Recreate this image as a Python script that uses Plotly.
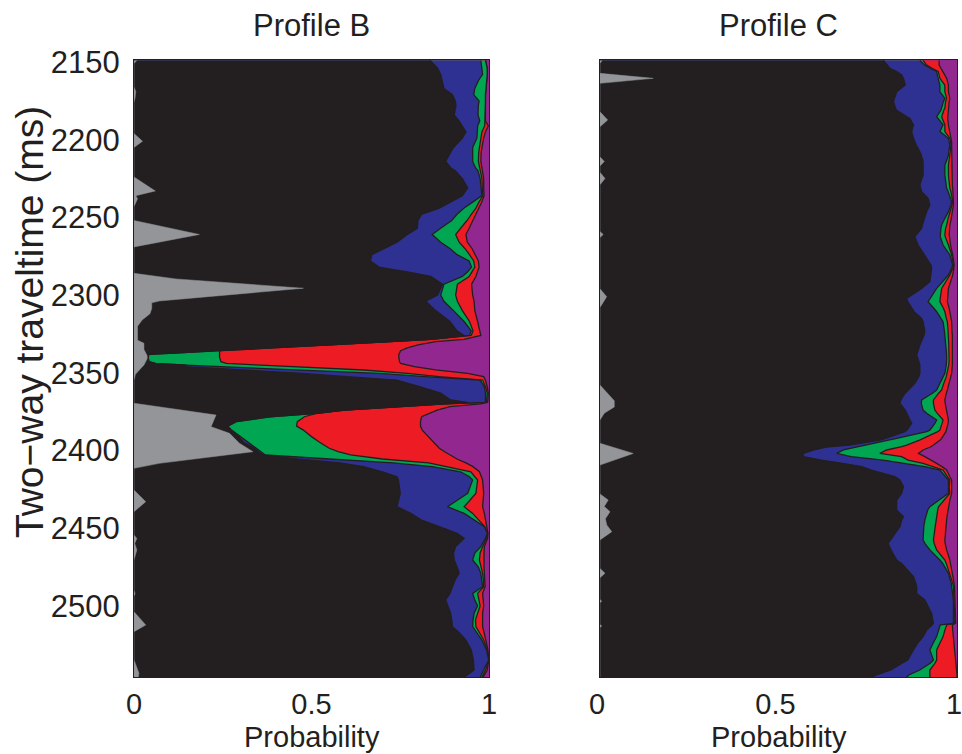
import plotly.graph_objects as go

# ---------------- Profile B ----------------
B_ms = [2149, 2154, 2158, 2162, 2167, 2171, 2175, 2178, 2184, 2188,
        2191, 2195, 2199, 2201, 2205, 2208, 2214, 2218, 2220, 2225,
        2231, 2236, 2240, 2244, 2248, 2252, 2257, 2261, 2266, 2270,
        2274, 2278, 2282, 2285, 2288, 2293, 2300, 2304, 2310, 2317,
        2323, 2326, 2328.5, 2330, 2332, 2334, 2335.8, 2337.1, 2338.2, 2340,
        2342.9, 2344, 2345.1, 2346.1, 2348.2, 2350.4, 2352.5, 2354.7, 2359, 2363,
        2367.5, 2369, 2370, 2371.8, 2374, 2376.1, 2378.3, 2381.5, 2384.3, 2386.9,
        2391.1, 2395, 2398.6, 2400.8, 2402.9, 2405.5, 2408, 2410.4, 2413.7, 2416.9,
        2419, 2427.6, 2436.2, 2440.5, 2444.8, 2449, 2453.3, 2456.6, 2461.9, 2466,
        2470.5, 2475, 2479.1, 2483, 2487.7, 2492, 2496.2, 2500, 2504.8, 2509,
        2513.4, 2517, 2522, 2528.4, 2534.9, 2541.3, 2546]
# cumulative probability at the right edge of each class
B_black = [.834, .855, .864, .868, .873, .897, .905, .907, .902, .916,
           .925, .935, .925, .916, .900, .892, .878, .892, .905, .925,
           .940, .925, .892, .860, .810, .800, .798, .770, .741, .703,
           .670, .666, .690, .770, .836, .869, .855, .822, .850, .890,
           .910, .930, .836, .722, .552, .363, .241, .128, .042, .040,
           .042, .060, .146, .146, .316, .474, .600, .740, .807, .864,
           .892, .940, .875, .750, .593, .514, .382, .288, .264, .270,
           .295, .310, .340, .350, .365, .460, .580, .647, .700, .741,
           .745, .750, .741, .780, .810, .860, .910, .930, .906, .900,
           .902, .910, .916, .905, .897, .890, .878, .885, .892, .895,
           .897, .915, .935, .950, .956, .958, .930]
B_blue = [.977, .980, .982, .970, .960, .957, .972, .970, .969, .974,
          .968, .967, .966, .962, .954, .954, .954, .962, .969, .975,
          .977, .980, .955, .930, .910, .895, .864, .840, .864, .890,
          .910, .944, .951, .940, .925, .873, .864, .873, .900, .930,
          .950, .945, .836, .722, .552, .363, .241, .128, .042, .040,
          .042, .060, .146, .255, .481, .690, .820, .975, .987, .990,
          .990, .990, .875, .750, .593, .514, .382, .288, .264, .275,
          .300, .320, .345, .355, .370, .550, .730, .840, .920, .945,
          .954, .940, .883, .930, .960, .987, .995, .990, .977, .960,
          .954, .970, .977, .980, .982, .954, .960, .968, .958, .955,
          .954, .965, .980, .993, .999, .985, .975]
B_green = [.990, .995, .995, .993, .992, .990, .990, .990, .989, .988,
           .988, .980, .977, .975, .972, .971, .970, .974, .977, .980,
           .981, .983, .972, .963, .950, .938, .920, .906, .916, .932,
           .945, .957, .960, .953, .944, .911, .906, .911, .925, .945,
           .955, .950, .836, .722, .552, .363, .241, .241, .241, .241,
           .245, .260, .358, .458, .647, .770, .860, .982, .990, .995,
           .994, .993, .875, .750, .593, .514, .480, .460, .458, .477,
           .500, .525, .550, .575, .610, .700, .830, .880, .949, .960,
           .968, .963, .930, .954, .970, .988, .996, .993, .982, .975,
           .973, .978, .982, .984, .985, .968, .972, .975, .968, .962,
           .963, .972, .985, .995, .999, .990, .980]
B_red = [.990, .995, .995, .993, .992, .990, .990, .990, .989, .990,
         .998, .990, .985, .983, .980, .978, .977, .980, .983, .985,
         .985, .986, .980, .972, .962, .955, .944, .935, .939, .952,
         .962, .970, .972, .968, .963, .951, .954, .958, .960, .968,
         .975, .977, .930, .850, .800, .770, .751, .749, .746, .746,
         .748, .751, .770, .790, .850, .940, .985, .990, .995, .998,
         .997, .996, .977, .890, .854, .830, .810, .807, .807, .812,
         .830, .845, .860, .875, .890, .910, .935, .955, .973, .978,
         .982, .985, .982, .987, .990, .992, .997, .996, .987, .986,
         .985, .986, .987, .988, .989, .982, .984, .985, .982, .982,
         .982, .986, .990, .997, .999, .995, .983]
B_gray_ms = [2149, 2151, 2166, 2169, 2173, 2176, 2196, 2201, 2205, 2224,
             2233, 2236, 2238, 2241, 2243, 2252, 2261, 2269, 2286, 2289.6,
             2295.6, 2303.8, 2305, 2308.5, 2312, 2316, 2320, 2329, 2331, 2335,
             2339, 2341, 2345, 2351, 2355, 2369.6, 2377.2, 2384.7, 2389, 2395.4,
             2400.8, 2408.3, 2411.5, 2425.5, 2433, 2439.4, 2454.4, 2456.6, 2459.8, 2464,
             2470.5, 2490, 2492, 2494, 2503.8, 2512.3, 2516.6, 2534.9, 2543.4, 2546]
B_gray = [.008, 0, 0, .005, .003, 0, 0, .024, 0, 0,
          .060, .005, .010, .004, 0, 0, .184, 0, 0, .118,
          .477, .071, .050, .050, .045, .023, .010, .010, .028, .028,
          .037, .037, .028, .004, 0, 0, .231, .217, .269, .297,
          .335, .071, 0, 0, .033, 0, 0, .008, .002, .008,
          0, 0, .003, 0, 0, .033, 0, 0, .014, .012]

# ---------------- Profile C ----------------
C_ms = [2149, 2152, 2154, 2156, 2158.4, 2160.5, 2164.8, 2169.1, 2173.4, 2175.5,
        2179.8, 2181, 2185.2, 2186.3, 2190.5, 2194.8, 2199.1, 2201.3, 2203.4, 2207.7,
        2209.9, 2214.1, 2216.3, 2222.7, 2229.2, 2231.3, 2233.4, 2237.7, 2239.9, 2242,
        2246.3, 2250.6, 2254.9, 2257, 2261.3, 2262.4, 2267.8, 2274.2, 2280.6, 2282.8,
        2287.1, 2291.4, 2295.7, 2302.1, 2304.2, 2308.5, 2310.7, 2315, 2317.1, 2323.5,
        2325.7, 2332.1, 2334.3, 2338.6, 2341.8, 2345, 2350.4, 2352.5, 2356.8, 2361.1,
        2363.3, 2367.5, 2369.7, 2374, 2376.1, 2380.4, 2382.6, 2386.9, 2387.9, 2392.2,
        2393.3, 2396.5, 2397.6, 2399.7, 2401.9, 2404, 2406.2, 2408.3, 2410.4, 2412.6,
        2416.9, 2419, 2423.3, 2427.6, 2431.9, 2436.2, 2438.3, 2442.6, 2444.8, 2449,
        2457.6, 2459.8, 2464, 2470.5, 2472.7, 2479.1, 2481.2, 2485.5, 2487.7, 2492,
        2494.1, 2496.2, 2502.7, 2504.8, 2509.1, 2511.3, 2512.3, 2515.6, 2519.8, 2524,
        2528.4, 2534.9, 2537, 2541.3, 2544.5, 2546]
C_black = [.794, .805, .812, .830, .845, .850, .855, .831, .826, .822,
           .828, .831, .860, .868, .878, .873, .878, .882, .886, .896,
           .900, .905, .905, .905, .896, .898, .901, .919, .922, .924,
           .915, .908, .903, .901, .886, .882, .891, .910, .927, .929,
           .926, .924, .901, .859, .862, .873, .880, .901, .905, .910,
           .908, .896, .893, .887, .892, .896, .896, .893, .882, .865,
           .854, .843, .840, .855, .859, .868, .873, .860, .854, .800,
           .784, .700, .640, .600, .570, .570, .620, .680, .733, .760,
           .826, .840, .850, .845, .831, .831, .831, .850, .845, .840,
           .812, .807, .815, .831, .845, .870, .878, .885, .887, .887,
           .900, .910, .924, .929, .932, .934, .930, .915, .905, .890,
           .878, .862, .845, .815, .775, .760]
C_blue = [.896, .910, .925, .943, .945, .947, .952, .952, .966, .962,
          .957, .955, .943, .947, .961, .952, .976, .978, .980, .977,
          .976, .970, .966, .966, .969, .971, .975, .982, .985, .983,
          .976, .966, .957, .955, .952, .953, .961, .980, .988, .985,
          .976, .960, .943, .925, .919, .935, .943, .955, .961, .965,
          .966, .970, .971, .971, .971, .970, .966, .962, .952, .943,
          .930, .901, .900, .905, .915, .943, .938, .924, .915, .831,
          .810, .747, .730, .682, .663, .704, .793, .859, .910, .952,
          .968, .976, .976, .976, .950, .924, .918, .912, .910, .907,
          .905, .910, .924, .952, .960, .976, .979, .984, .985, .988,
          .989, .990, .990, .990, .992, .990, .953, .948, .943, .933,
          .924, .934, .925, .896, .865, .859]
C_green = [.905, .915, .930, .947, .950, .952, .966, .966, .971, .968,
           .966, .963, .957, .959, .966, .966, .980, .982, .983, .981,
           .980, .978, .976, .976, .978, .980, .983, .986, .988, .986,
           .980, .975, .971, .968, .966, .967, .976, .985, .990, .988,
           .980, .968, .957, .953, .952, .962, .966, .970, .973, .975,
           .976, .977, .977, .978, .978, .977, .973, .970, .963, .957,
           .948, .934, .934, .938, .945, .961, .958, .952, .946, .905,
           .895, .859, .845, .803, .784, .845, .863, .905, .935, .961,
           .973, .980, .978, .980, .964, .948, .946, .944, .943, .939,
           .934, .936, .943, .966, .970, .980, .983, .988, .990, .991,
           .992, .992, .993, .993, .994, .993, .971, .966, .961, .952,
           .943, .943, .938, .924, .924, .924]
C_red = [.950, .950, .955, .961, .966, .971, .976, .976, .980, .978,
         .976, .975, .973, .974, .976, .980, .985, .985, .985, .985,
         .985, .985, .985, .986, .987, .988, .989, .990, .990, .990,
         .988, .984, .980, .979, .978, .979, .982, .988, .992, .991,
         .988, .982, .976, .974, .973, .978, .980, .983, .985, .986,
         .987, .987, .987, .988, .988, .987, .985, .983, .978, .973,
         .970, .966, .967, .971, .972, .976, .975, .971, .969, .957,
         .953, .934, .927, .905, .892, .910, .929, .943, .958, .971,
         .980, .985, .985, .985, .980, .976, .974, .972, .971, .969,
         .966, .967, .971, .980, .982, .987, .989, .992, .993, .994,
         .994, .994, .996, .996, .996, .996, .987, .988, .990, .992,
         .994, .997, .998, 1.0, 1.0, 1.0]
C_gray_ms = [2149, 2151, 2157.3, 2160.5, 2163.7, 2182, 2187.3, 2191.6, 2211, 2214,
             2217, 2221, 2225, 2229, 2259, 2261, 2263, 2296, 2301, 2308,
             2357.9, 2361, 2368, 2372, 2376, 2380.4, 2395.4, 2401.9, 2409.4, 2428,
             2431.9, 2436, 2439.4, 2444, 2448, 2452.3, 2457.6, 2476, 2479, 2482,
             2496, 2497, 2498, 2512, 2513, 2514, 2546]
C_gray = [.006, 0, 0, .149, 0, 0, .0215, 0, 0, .012,
          0, 0, .014, 0, 0, .009, 0, 0, .0187, 0,
          0, .012, .040, .040, .012, 0, 0, .093, 0, 0,
          .023, .012, .028, .015, .019, .033, 0, 0, .014, 0,
          0, .005, 0, 0, .005, 0, 0]

Y_TICKS = [2150, 2200, 2250, 2300, 2350, 2400, 2450, 2500]
X_TICKS = [0, 0.5, 1]
X_TICKTEXT = ["0", "0.5", "1"]

COL_BLACK = "#231f20"
COL_GRAY = "#939598"
COL_BLUE = "#2e3192"
COL_GREEN = "#00a651"
COL_RED = "#ed1c24"
COL_PURPLE = "#92278f"
OUTLINE = "#231f20"

FONT = "Liberation Sans, Arial, sans-serif"
TXT = "#231f20"

fig = go.Figure()


def add_panel(xa, ya, ms, black, blue, green, red, gray_ms, gray):
    # painter's order: each class is drawn from x = 0 out to its right edge
    for edge, col in [(red, COL_RED), (green, COL_GREEN), (blue, COL_BLUE), (black, COL_BLACK)]:
        fig.add_trace(go.Scatter(x=edge, y=ms, mode="lines", fill="tozerox",
                                 fillcolor=col, line=dict(color=OUTLINE, width=1.3),
                                 xaxis=xa, yaxis=ya, hoverinfo="skip", showlegend=False))
    fig.add_trace(go.Scatter(x=gray, y=gray_ms, mode="lines", fill="tozerox",
                             fillcolor=COL_GRAY, line=dict(color=COL_GRAY, width=0.5),
                             xaxis=xa, yaxis=ya, hoverinfo="skip", showlegend=False))


add_panel("x", "y", B_ms, B_black, B_blue, B_green, B_red, B_gray_ms, B_gray)
add_panel("x2", "y2", C_ms, C_black, C_blue, C_green, C_red, C_gray_ms, C_gray)

W, H = 962, 754
bx0, bx1 = 134 / W, 489 / W
cx0, cx1 = 600 / W, 957 / W
y0, y1 = 1 - 677 / H, 1 - 60 / H
yr = [2545.8, 2148.7]

axis_common = dict(showgrid=False, zeroline=False, showline=True, mirror=True,
                   linecolor=OUTLINE, linewidth=1, ticks="", automargin=False,
                   ticklabeloverflow="allow")
yfont = dict(family=FONT, size=31, color=TXT)
xfont = dict(family=FONT, size=29, color=TXT)

fig.update_layout(
    width=W, height=H, margin=dict(l=0, r=0, t=0, b=0, autoexpand=False),
    paper_bgcolor="white", plot_bgcolor=COL_PURPLE,
    xaxis=dict(domain=[bx0, bx1], range=[0, 1], tickvals=X_TICKS, ticktext=X_TICKTEXT,
               anchor="y", ticklabelstandoff=1, tickfont=xfont, **axis_common),
    yaxis=dict(domain=[y0, y1], range=yr, tickvals=Y_TICKS, anchor="x",
               ticklabelstandoff=7, tickfont=yfont, **axis_common),
    xaxis2=dict(domain=[cx0, cx1], range=[0, 1], tickvals=X_TICKS, ticktext=X_TICKTEXT,
                anchor="y2", ticklabelstandoff=1, ticklabelshift=-3, tickfont=xfont,
                **axis_common),
    yaxis2=dict(domain=[y0, y1], range=yr, tickvals=Y_TICKS, anchor="x2",
                showticklabels=False, tickfont=yfont, **axis_common),
)

ann_font = dict(family=FONT, size=31, color=TXT)
lab_font = dict(family=FONT, size=29, color=TXT)
fig.add_annotation(text="Profile B", x=(bx0 + bx1) / 2, y=1 - 26 / H, xref="paper", yref="paper",
                   showarrow=False, xanchor="center", yanchor="middle", font=ann_font)
fig.add_annotation(text="Profile C", x=(cx0 + cx1) / 2, y=1 - 26 / H, xref="paper", yref="paper",
                   showarrow=False, xanchor="center", yanchor="middle", font=ann_font)
fig.add_annotation(text="Probability", x=(bx0 + bx1) / 2, y=1 - 737 / H, xref="paper", yref="paper",
                   showarrow=False, xanchor="center", yanchor="middle", font=lab_font)
fig.add_annotation(text="Probability", x=(cx0 + cx1) / 2, y=1 - 737 / H, xref="paper", yref="paper",
                   showarrow=False, xanchor="center", yanchor="middle", font=lab_font)
fig.add_annotation(text="Two\u2212way traveltime (ms)", x=29 / W, y=1 - 322 / H, xref="paper",
                   yref="paper", showarrow=False, textangle=-90, xanchor="center",
                   yanchor="middle", font=dict(family=FONT, size=39, color=TXT))

fig.write_html("out.html")
